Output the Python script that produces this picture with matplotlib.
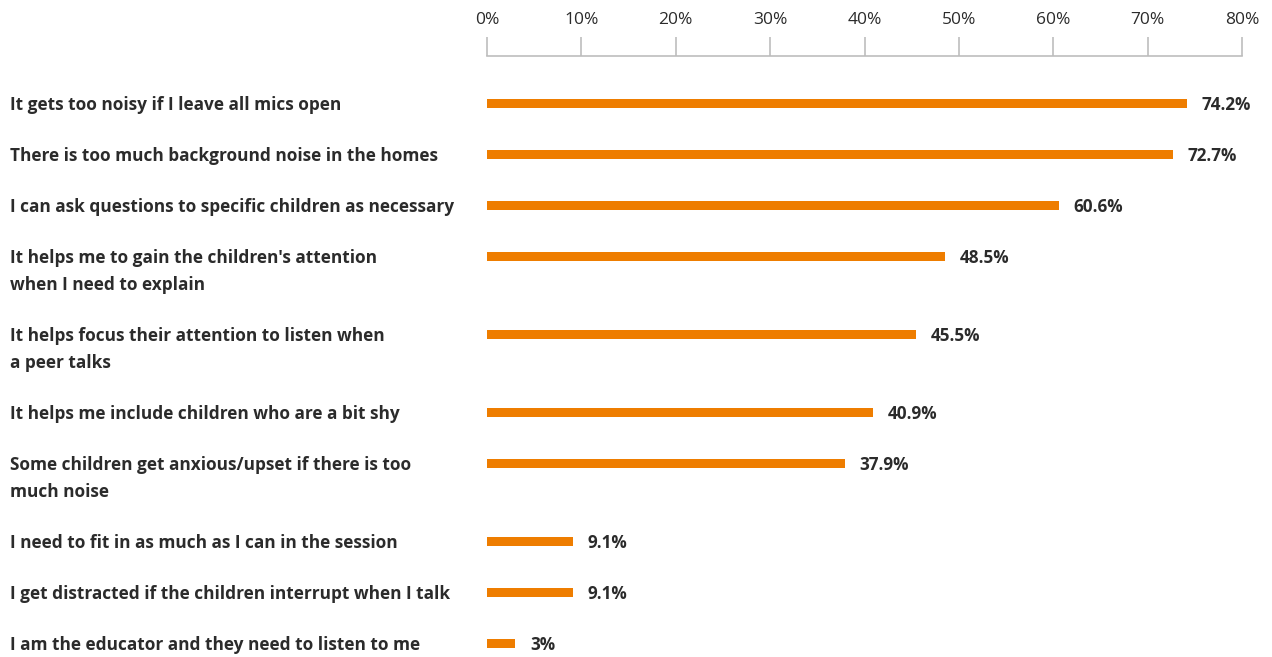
import matplotlib
matplotlib.use('Agg')

import numpy as np
import matplotlib.pyplot as plt
from matplotlib import transforms

plt.rcParams['font.family'] = ['Open Sans', 'DejaVu Sans']

labels = [
    'It gets too noisy if I leave all mics open',
    'There is too much background noise in the homes',
    'I can ask questions to specific children as necessary',
    "It helps me to gain the children's attention\nwhen I need to explain",
    'It helps focus their attention to listen when\na peer talks',
    'It helps me include children who are a bit shy',
    'Some children get anxious/upset if there is too\nmuch noise',
    'I need to fit in as much as I can in the session',
    'I get distracted if the children interrupt when I talk',
    'I am the educator and they need to listen to me',
]
values = [74.2, 72.7, 60.6, 48.5, 45.5, 40.9, 37.9, 9.1, 9.1, 3]
value_text = ['74.2%', '72.7%', '60.6%', '48.5%', '45.5%', '40.9%', '37.9%',
              '9.1%', '9.1%', '3%']
ticks = [0, 10, 20, 30, 40, 50, 60, 70, 80]

orange = '#ee7d00'
dark = '#2b2b2b'

W, H = 1272, 657
fig = plt.figure(figsize=(W / 100, H / 100), dpi=100)

# axes: x from 0% to 80%, y measured in pixels downward from the axis line
x0, x1, ytop = 487, 1242, 56
ax = fig.add_axes([x0 / W, 0, (x1 - x0) / W, (H - ytop) / H])
ax.set_xlim(0, 80)
ax.set_ylim(H - ytop, 0)

# row positions: a single-line row takes 51px, each extra line adds 27px
line_h = 27
pos = []
y = 47
for lab in labels:
    pos.append(y)
    y += 51 + line_h * (lab.count('\n'))
pos = np.array(pos)

ax.barh(pos, values, height=9, color=orange, left=0)

for p, v, t in zip(pos, values, value_text):
    ax.annotate(t, xy=(v, p), xytext=(10.5, 0), textcoords='offset points',
                va='center_baseline', ha='left', fontsize=12.3,
                fontweight='bold', color=dark)

# category labels on the left edge of the figure
trans = transforms.blended_transform_factory(fig.transFigure, ax.transData)
for p, lab in zip(pos, labels):
    for i, line in enumerate(lab.split('\n')):
        ax.text(10 / W, p + i * line_h, line, transform=trans,
                ha='left', va='center_baseline', fontsize=12.4,
                fontweight='bold', color=dark)

for s in ['bottom', 'left', 'right']:
    ax.spines[s].set_visible(False)
ax.spines['top'].set_color('#bdbdbd')
ax.spines['top'].set_linewidth(1.2)

ax.xaxis.tick_top()
ax.set_xticks(ticks)
ax.set_xticklabels(['%d%%' % t for t in ticks])
ax.tick_params(axis='x', direction='out', length=14, width=1.2,
               color='#bdbdbd', labelsize=12.5, labelcolor=dark, pad=6)
ax.set_yticks([])

fig.savefig('out.png', dpi=100)
